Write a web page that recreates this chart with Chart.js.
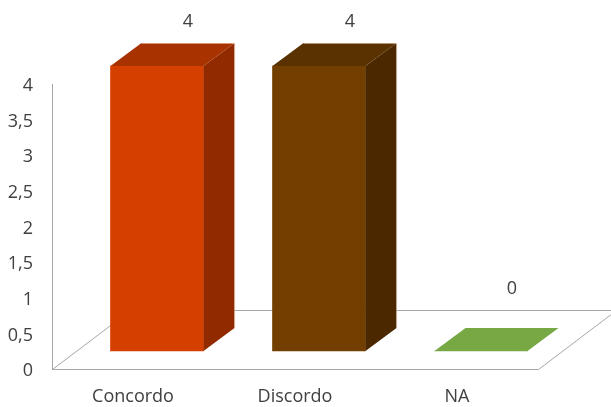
<!DOCTYPE html>
<html>
<head>
<meta charset="utf-8">
<script src="https://cdn.jsdelivr.net/npm/chart.js@4.4.1/dist/chart.umd.min.js"></script>
<style>
  html, body { margin: 0; padding: 0; background: #fff; }
  #chart { display: block; }
</style>
</head>
<body>
<canvas id="chart" width="611" height="407"></canvas>
<script>
const categories = ["Concordo", "Discordo", "NA"];
const answers = [4, 4, 0];
const yTicks = [0, 0.5, 1, 1.5, 2, 2.5, 3, 3.5, 4];
const yTickLabels = ["0", "0,5", "1", "1,5", "2", "2,5", "3", "3,5", "4"];

// face colours per category: front, top, right side
const frontColors = ["#D54000", "#723F00", "#77A844"];
const topColors = ["#A83300", "#5A3200", "#77A844"];
const sideColors = ["#922A00", "#4B2800", "#5E8636"];

const lineGrey = "#A6A6A6";
const textGrey = "#404040";

// fake 3d: box depth, where the bars sit on the floor, floor depth
const DX = 31, DY = 23;
const SHIFT_X = 24, SHIFT_Y = 18;
const FLOOR_X = 78, FLOOR_Y = 59;

const box3d = {
  id: "box3d",
  beforeDatasetsDraw(chart) {
    const { ctx, chartArea: a } = chart;
    const b = Math.round(a.bottom) + 0.5;
    const l = Math.round(a.left) + 0.5;
    const r = Math.round(a.right) + 0.5;
    ctx.save();
    ctx.beginPath();
    ctx.moveTo(l, b);
    ctx.lineTo(r, b);
    ctx.lineTo(r + FLOOR_X, b - FLOOR_Y);
    ctx.lineTo(l + FLOOR_X, b - FLOOR_Y);
    ctx.closePath();
    ctx.fillStyle = "#fff";
    ctx.fill();
    ctx.strokeStyle = lineGrey;
    ctx.lineWidth = 1;
    ctx.stroke();
    ctx.restore();

    // bars are drawn pushed back into the floor
    ctx.save();
    ctx.translate(SHIFT_X, -SHIFT_Y);
  },
  afterDatasetsDraw(chart) {
    const { ctx, chartArea: a } = chart;
    const bars = chart.getDatasetMeta(0).data;

    bars.forEach((bar, i) => {
      const { x, y, base, width } = bar.getProps(["x", "y", "base", "width"], true);
      const l = x - width / 2;
      const r = x + width / 2;

      if (base - y > 0) {
        ctx.fillStyle = sideColors[i];
        ctx.beginPath();
        ctx.moveTo(r, y);
        ctx.lineTo(r + DX, y - DY);
        ctx.lineTo(r + DX, base - DY);
        ctx.lineTo(r, base);
        ctx.closePath();
        ctx.fill();
      }

      ctx.fillStyle = topColors[i];
      ctx.beginPath();
      ctx.moveTo(l, y);
      ctx.lineTo(l + DX, y - DY);
      ctx.lineTo(r + DX, y - DY);
      ctx.lineTo(r, y);
      ctx.closePath();
      ctx.fill();

      // faint light rim along the back edges
      if (base - y > 0) {
        ctx.strokeStyle = "rgba(255, 230, 210, 0.55)";
        ctx.lineWidth = 1;
        ctx.beginPath();
        ctx.moveTo(l + DX, y - DY + 0.5);
        ctx.lineTo(r + DX + 0.5, y - DY + 0.5);
        ctx.lineTo(r + DX + 0.5, base - DY);
        ctx.stroke();
      }
    });
    ctx.restore();

    // value labels above the back of each box
    ctx.save();
    ctx.font = "18px 'Open Sans', sans-serif";
    ctx.fillStyle = textGrey;
    ctx.textAlign = "center";
    ctx.textBaseline = "middle";
    bars.forEach((bar, i) => {
      const bx = bar.x + SHIFT_X + DX;
      const by = Math.min(bar.y - SHIFT_Y - DY, a.bottom - FLOOR_Y) - 21;
      ctx.fillText(String(answers[i]), bx, by);
    });
    ctx.restore();
  }
};

Chart.defaults.font.family = "'Open Sans', sans-serif";
Chart.defaults.font.size = 18;
Chart.defaults.color = textGrey;

new Chart(document.getElementById("chart"), {
  type: "bar",
  data: {
    labels: categories,
    datasets: [{
      data: answers,
      backgroundColor: frontColors,
      borderWidth: 0,
      barThickness: 93,
      clip: false
    }]
  },
  options: {
    responsive: false,
    animation: false,
    layout: { padding: { top: 84, right: 73, left: 0, bottom: 0 } },
    plugins: {
      legend: { display: false },
      tooltip: { enabled: false }
    },
    scales: {
      x: {
        grid: { display: false, drawTicks: false },
        border: { display: false },
        ticks: { padding: 17, color: textGrey },
        afterFit: (scale) => { scale.height = 38; }
      },
      y: {
        min: 0,
        max: 4,
        grid: { display: false, drawTicks: false },
        border: { display: true, color: lineGrey, width: 1 },
        ticks: {
          stepSize: 0.5,
          padding: 19,
          labelOffset: 2,
          autoSkip: false,
          color: textGrey,
          callback: (v) => yTickLabels[yTicks.indexOf(v)]
        },
        afterFit: (scale) => { scale.width = 52; }
      }
    }
  },
  plugins: [box3d]
});
</script>
</body>
</html>
